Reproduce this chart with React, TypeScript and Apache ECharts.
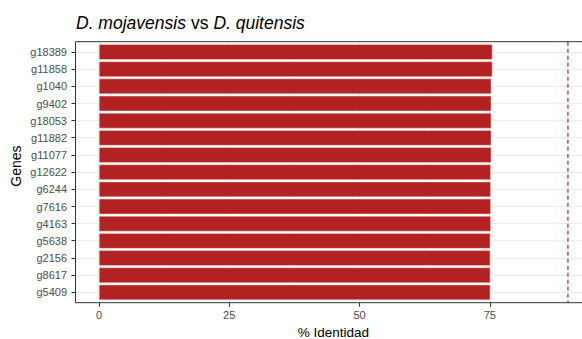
import React, { useEffect, useRef } from "react";
import * as echarts from "echarts";

// Genes, listed top to bottom
const genes = [
  "g18389", "g11858", "g1040", "g9402", "g18053", "g11882", "g11077", "g12622",
  "g6244", "g7616", "g4163", "g5638", "g2156", "g8617", "g5409",
];
// % identity per gene
const identity = [
  75.5, 75.5, 75.3, 75.3, 75.3, 75.3, 75.3, 75.2,
  75.2, 75.2, 75.2, 75.1, 75.1, 75.1, 75.1,
];
const xTicks = [0, 25, 50, 75];
const xMinor = [12.5, 37.5, 62.5, 87.5];
const threshold = 90;
const xMin = -4.5;
const xMax = 94.5;

const FONT = "'Liberation Sans', Arial, sans-serif";

// panel geometry (ggplot-like discrete expansion of 0.6 band)
const panelLeft = 75.5;
const panelTop = 41.7;
const panelHeight = 261;
const band = panelHeight / (genes.length - 1 + 1.2);
const gridTop = panelTop + band * 0.1;
const gridHeight = band * genes.length;
const pad = band * 0.1;

const crisp = (v: number) => Math.round(v - 0.5) + 0.5;

export default function App() {
  const ref = useRef<HTMLDivElement>(null);

  useEffect(() => {
    if (!ref.current) return;
    const chart = echarts.init(ref.current, null, { renderer: "svg" });

    const vLine = (width: number, color: string, dashed = false) =>
      (params: any, api: any) => {
        const cs = params.coordSys;
        const x = api.coord([api.value(0), 0])[0];
        return {
          type: "line",
          shape: { x1: x, y1: cs.y - pad, x2: x, y2: cs.y + cs.height + pad },
          style: {
            stroke: color,
            lineWidth: width,
            lineDash: dashed ? [4, 3] : null,
          },
          silent: true,
        };
      };

    const baseGraphic: any[] = [
      {
        type: "rect",
        z: 100,
        silent: true,
        shape: { x: panelLeft, y: panelTop, width: 540, height: panelHeight },
        style: { fill: "none", stroke: "#333333", lineWidth: 1 },
      },
      {
        type: "text",
        x: 16,
        y: 166,
        rotation: Math.PI / 2,
        style: {
          text: "Genes",
          fontFamily: FONT,
          fontSize: 14,
          fill: "#000",
          align: "center",
          verticalAlign: "middle",
        },
      },
    ];

    chart.setOption({
      animation: false,
      backgroundColor: "#ffffff",
      title: {
        text: "{i|D. mojavensis} {n|vs} {i|D. quitensis}",
        left: 71,
        top: 9,
        textStyle: {
          fontWeight: "normal",
          rich: {
            i: { fontFamily: FONT, fontSize: 17.5, fontStyle: "italic", fontWeight: "normal", color: "#000" },
            n: { fontFamily: FONT, fontSize: 17.5, fontWeight: "normal", color: "#000" },
          },
        },
      },
      grid: {
        left: panelLeft,
        top: gridTop,
        height: gridHeight,
        right: -9.4,
        outerBoundsMode: "none",
      },
      xAxis: {
        type: "value",
        min: xMin,
        max: xMax,
        offset: pad,
        name: "% Identidad",
        nameLocation: "middle",
        nameGap: 21,
        nameTextStyle: { fontFamily: FONT, fontSize: 13.5, color: "#000" },
        axisLine: { show: false, onZero: false },
        axisTick: {
          show: true,
          customValues: xTicks,
          length: 4,
          lineStyle: { color: "#333333" },
        },
        axisLabel: {
          customValues: xTicks,
          margin: 7,
          fontFamily: FONT,
          fontSize: 11,
          color: "#4d4d4d",
        },
        splitLine: { show: false },
      },
      yAxis: {
        type: "category",
        data: genes,
        inverse: true,
        axisLine: { show: false, onZero: false },
        axisTick: { show: false },
        axisLabel: {
          interval: 0,
          margin: 8.5,
          fontFamily: FONT,
          fontSize: 11,
          color: "#4d4d4d",
        },
        splitLine: { show: false },
      },
      graphic: baseGraphic,
      series: [
        {
          type: "custom",
          z: 1,
          silent: true,
          data: genes.map((g) => [0, g]),
          renderItem: (params: any, api: any) => {
            const cs = params.coordSys;
            const y = crisp(api.coord([0, api.value(1)])[1]);
            return {
              type: "line",
              shape: { x1: cs.x, y1: y, x2: cs.x + cs.width, y2: y },
              style: { stroke: "#ebebeb", lineWidth: 1 },
              silent: true,
            };
          },
        },
        {
          type: "custom",
          z: 1,
          silent: true,
          data: xMinor.map((v) => [v, genes[0]]),
          renderItem: vLine(0.6, "#f2f2f2"),
        },
        {
          type: "custom",
          z: 1,
          silent: true,
          data: xTicks.map((v) => [v, genes[0]]),
          renderItem: vLine(1, "#ebebeb"),
        },
        {
          type: "bar",
          z: 2,
          data: identity,
          barCategoryGap: "10%",
          itemStyle: { color: "#b22222", borderColor: "#f3dede", borderWidth: 0.5 },
        },
        {
          type: "custom",
          z: 3,
          silent: true,
          data: [[threshold, genes[0]]],
          renderItem: vLine(1.2, "#b22222", true),
        },
      ],
    });

    // y-axis tick marks at each gene, positioned through the grid's scales
    const tickMarks: any[] = [];
    genes.forEach((g, i) => {
      const p = chart.convertToPixel({ gridIndex: 0 }, [xMin, i]) as number[];
      if (!p || !isFinite(p[1])) return;
      const y = crisp(p[1]);
      const x = p[0];
      tickMarks.push({
        type: "line",
        z: 100,
        silent: true,
        shape: { x1: x - 4, y1: y, x2: x, y2: y },
        style: { stroke: "#333333", lineWidth: 1 },
      });
    });
    chart.setOption({ graphic: [...baseGraphic, ...tickMarks] });

    return () => chart.dispose();
  }, []);

  return (
    <div
      ref={ref}
      style={{ position: "absolute", left: 0, top: 0, width: 582, height: 339 }}
    />
  );
}
